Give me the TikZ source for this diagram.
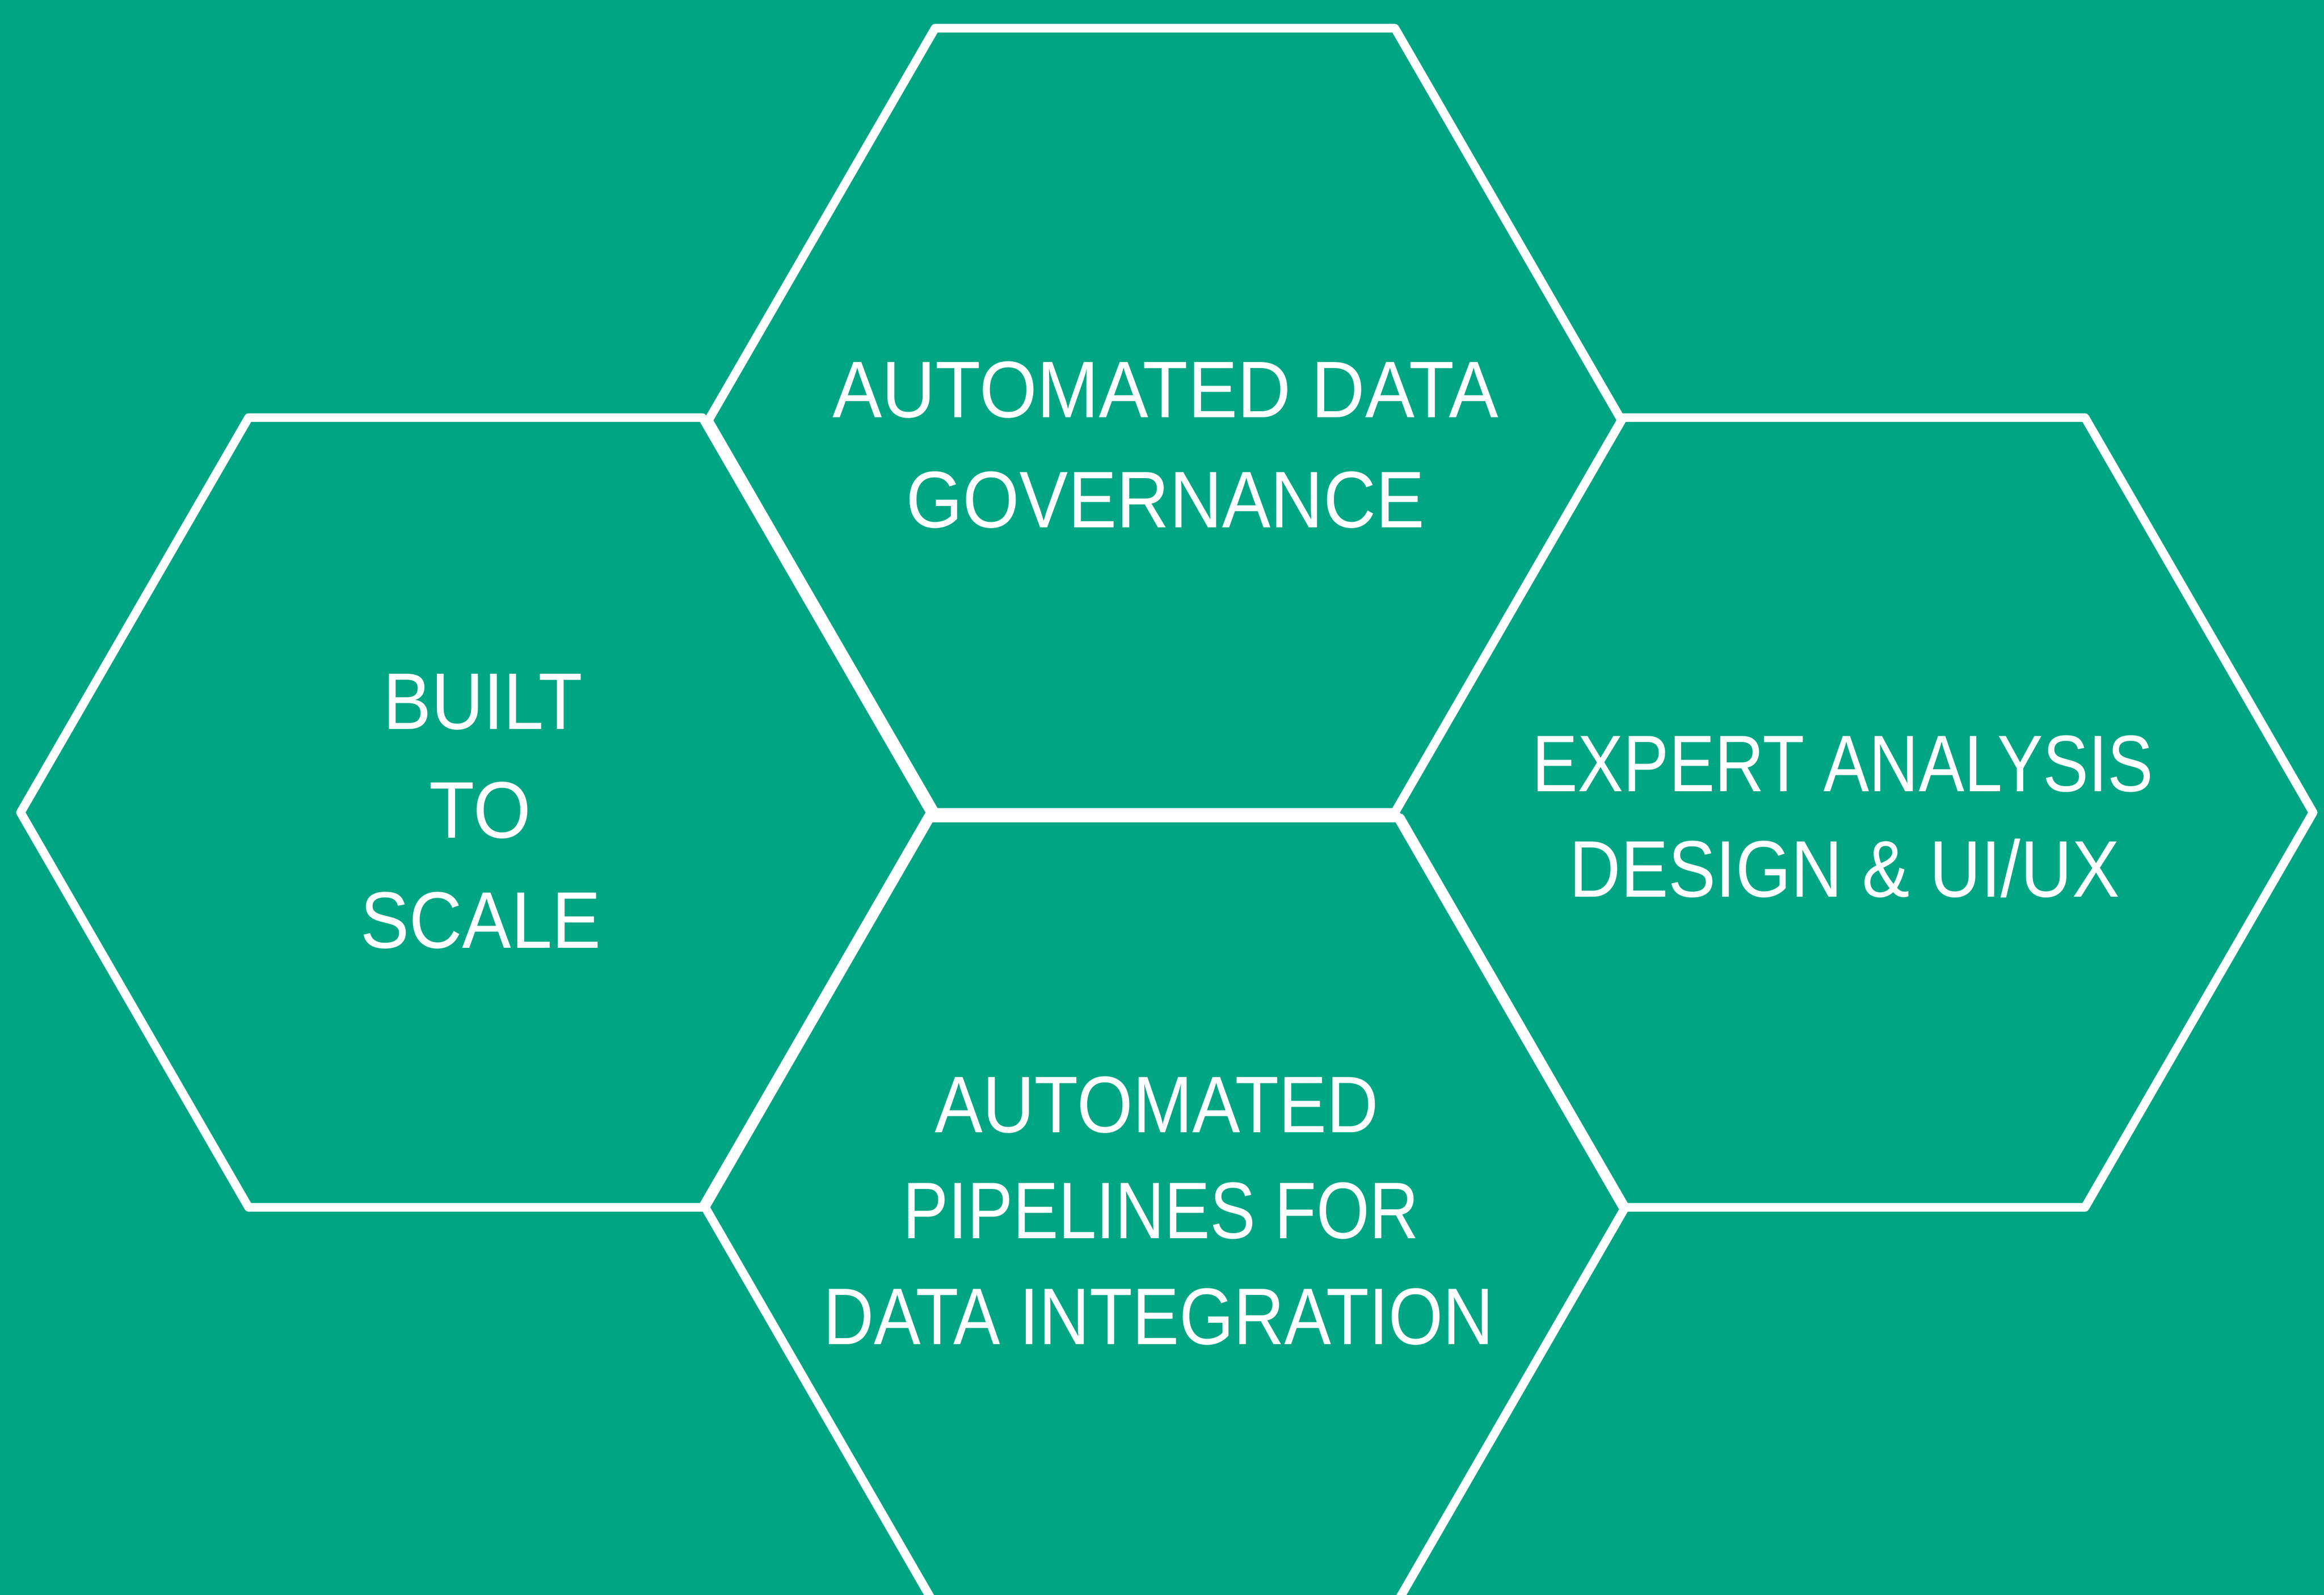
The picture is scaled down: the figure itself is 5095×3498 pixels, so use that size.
\documentclass[tikz,border=0pt]{standalone}
\usepackage{fontspec}
\setmainfont{Liberation Sans}
\usepackage{graphicx}
\definecolor{hexgreen}{RGB}{0,166,132}
\newcommand{\fitw}[2]{\resizebox{#1pt}{\height}{#2}}
\tikzset{
  hexline/.style={draw=white, line width=1.9pt, line join=round},
  lbl/.style={text=white, anchor=base, inner sep=0pt, font=\fontsize{17.6pt}{24pt}\selectfont}
}
\begin{document}
\begin{tikzpicture}[x=0.1pt,y=-0.1pt]
\fill[hexgreen] (0,0) rectangle (5095,3498);
\useasboundingbox (0,0) rectangle (5095,3498);
\clip (0,0) rectangle (5095,3498);
% left hexagon
\draw[hexline] (45,1782) -- (545,916) -- (1540,916) -- (2040,1782) -- (1540,2648) -- (545,2648) -- cycle;
% top hexagon
\draw[hexline] (1553,922) -- (2050,62) -- (3058,62) -- (3555,922) -- (3058,1782) -- (2050,1782) -- cycle;
% right hexagon
\draw[hexline] (3058,1782) -- (3558,916) -- (4571,916) -- (5071,1782) -- (4571,2648) -- (3558,2648) -- cycle;
% bottom hexagon
\draw[hexline] (1546,2648) -- (2039,1794) -- (3070,1794) -- (3563,2648) -- (3054,3530) -- (2055,3530) -- cycle;
% labels
\node[lbl] (top1) at (2555,916) {\fitw{146.0}{AUTOMATED DATA}};
\node[lbl] (top2) at (2555,1157) {\fitw{113.6}{GOVERNANCE}};
\node[lbl] (left1) at (1059,1599) {\fitw{43.7}{BUILT}};
\node[lbl] (left2) at (1053,1838) {\fitw{22.3}{TO}};
\node[lbl] (left3) at (1054,2079) {\fitw{52.8}{SCALE}};
\node[lbl] (right1) at (4040,1736) {\fitw{136.2}{EXPERT ANALYSIS}};
\node[lbl] (right2) at (4044,1967) {\fitw{120.6}{DESIGN \& UI/UX}};
\node[lbl] (bot1) at (2536,2484) {\fitw{97.3}{AUTOMATED}};
\node[lbl] (bot2) at (2545,2716) {\fitw{113.2}{PIPELINES FOR}};
\node[lbl] (bot3) at (2540,2948) {\fitw{146.9}{DATA INTEGRATION}};
\end{tikzpicture}
\end{document}
